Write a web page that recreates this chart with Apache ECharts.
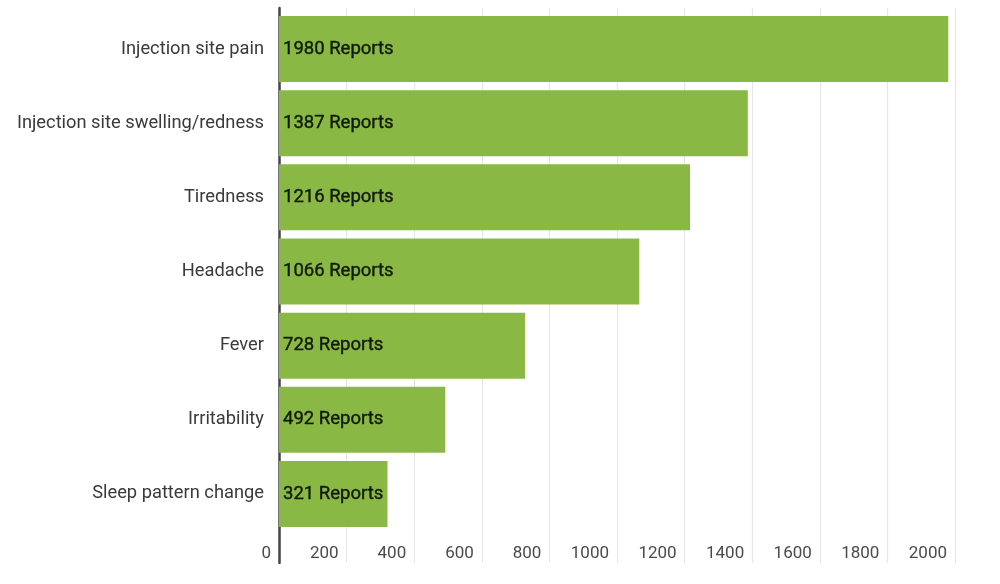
<!DOCTYPE html>
<html>
<head>
<meta charset="utf-8">
<script src="https://cdn.jsdelivr.net/npm/echarts@6/dist/echarts.min.js"></script>
<style>
  html, body { margin: 0; padding: 0; background: #fff; }
  #chart { width: 1000px; height: 584px; }
</style>
</head>
<body>
<div id="chart"></div>
<script>
var symptoms = ['Injection site pain', 'Injection site swelling/redness', 'Tiredness', 'Headache', 'Fever', 'Irritability', 'Sleep pattern change']
var reports = [1980, 1387, 1216, 1066, 728, 492, 321]
var xMax = 2000
var xStep = 200

var chart = echarts.init(document.getElementById('chart'))
chart.setOption({
  animation: false,
  textStyle: { fontFamily: 'Roboto' },
  grid: [{
    // bars
    left: 279, right: 45, top: 12, bottom: 53
  }, {
    // gridlines + axis line, a bit taller than the bars
    left: 279, right: 45, top: 8, bottom: 21
  }],
  xAxis: [{
    type: 'value', min: 0, max: xMax, interval: xStep, show: false
  }, {
    type: 'value', gridIndex: 1, min: 0, max: xMax, interval: xStep,
    axisLine: { show: false },
    axisTick: { show: false },
    splitLine: { lineStyle: { color: '#e6e6e6', width: 1.2 } },
    axisLabel: {
      inside: true, margin: 1, align: 'right', padding: [0, 8, 0, 0],
      fontSize: 17, color: '#4a4a4a',
      formatter: function (v) { return String(v) }
    }
  }],
  yAxis: [{
    type: 'category', data: symptoms, inverse: true,
    axisLine: { show: false },
    axisTick: { show: false },
    axisLabel: { margin: 15, fontSize: 18.3, color: '#3a3a3a' }
  }, {
    type: 'value', gridIndex: 1, min: 0, max: 1,
    axisLine: { show: true, lineStyle: { color: '#444', width: 2.5 } },
    axisTick: { show: false },
    axisLabel: { show: false },
    splitLine: { show: false }
  }],
  series: [{
    type: 'bar',
    data: reports,
    barCategoryGap: '11%',
    itemStyle: { color: '#8ab845' },
    label: {
      show: true, position: 'insideLeft', distance: 4,
      formatter: '{c} Reports',
      fontSize: 18.5, color: '#111a0a',
      textBorderColor: '#111a0a', textBorderWidth: 0.4
    }
  }]
})
</script>
</body>
</html>
